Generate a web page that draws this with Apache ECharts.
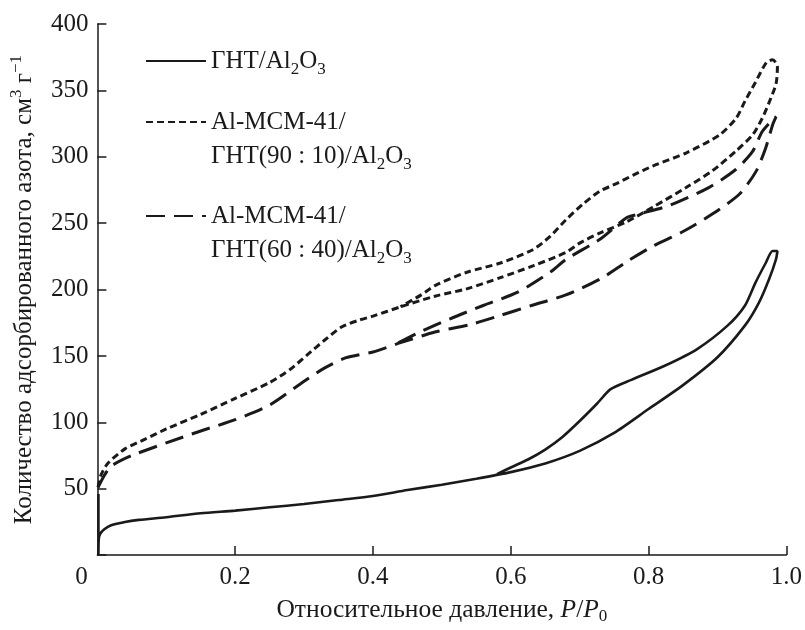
<!DOCTYPE html>
<html>
<head>
<meta charset="utf-8">
<script src="https://cdn.jsdelivr.net/npm/echarts@6/dist/echarts.min.js"></script>
<style>
html,body{margin:0;padding:0;background:#fff;}
#chart{width:805px;height:630px;}
</style>
</head>
<body>
<div id="chart"></div>
<script>
// X tick values (relative pressure) and Y tick values
var xTicks = [0, 0.2, 0.4, 0.6, 0.8, 1.0];
var yTicks = [50, 100, 150, 200, 250, 300, 350, 400];

// Series names (legend)
var seriesNames = ['ght', 'mcm90', 'mcm60'];

// ГНТ/Al2O3 : adsorption branch then desorption branch  [P/P0, V]
var ghtAds = [[0.0015,46],[0.0015,0],[0.002,12],[0.004,16],[0.01,19.5],[0.02,22.5],[0.04,25],[0.06,26.5],
  [0.1,28.5],[0.15,31.5],[0.2,33.5],[0.25,36],[0.3,38.5],[0.35,41.5],[0.4,44.5],[0.45,49],[0.5,53],
  [0.55,57.5],[0.6,62.5],[0.65,69],[0.7,78.5],[0.75,92],[0.8,110],[0.85,128],[0.9,149],[0.94,173],
  [0.96,190],[0.975,208],[0.985,223],[0.987,229]];
var ghtDes = [[0.98,229],[0.97,220],[0.955,205],[0.94,188],[0.915,173],[0.87,155],[0.825,143],
  [0.775,132],[0.745,125],[0.725,114],[0.70,101],[0.675,89],[0.65,79.5],[0.625,72],[0.6,66],[0.58,61]];

// Al-MCM-41/ГНТ(90:10)/Al2O3
var mcm90Ads = [[0.001,51],[0.005,60],[0.015,69],[0.04,80],[0.07,87.5],[0.1,95],[0.15,106],[0.2,118],
  [0.25,130],[0.28,140],[0.305,151],[0.33,162],[0.355,172],[0.38,177],[0.40,180],[0.44,187],[0.49,195],
  [0.536,200.5],[0.585,209],[0.633,218],[0.68,228],[0.70,235],[0.729,242.5],[0.768,251],[0.806,262],
  [0.855,277],[0.893,289.6],[0.927,304.4],[0.951,316.5],[0.965,329],[0.975,341],[0.985,355],[0.987,368]];
var mcm90Des = [[0.98,373],[0.971,371],[0.955,356],[0.94,342],[0.927,329],[0.903,316.5],[0.855,303],
  [0.806,293],[0.777,286],[0.754,280],[0.729,274],[0.705,264.5],[0.68,252.5],[0.657,240],[0.632,230],
  [0.585,220],[0.536,213],[0.49,203],[0.47,196],[0.44,187]];

// Al-MCM-41/ГНТ(60:40)/Al2O3
var mcm60Ads = [[0.001,51],[0.01,60],[0.02,67],[0.05,75],[0.1,84.5],[0.15,93.5],[0.2,102],[0.25,113],
  [0.3,131],[0.33,141],[0.36,148.5],[0.4,153],[0.44,160],[0.49,168],[0.54,173.5],[0.585,180.5],
  [0.63,188],[0.68,196],[0.73,208],[0.77,221.5],[0.806,232.6],[0.85,243.7],[0.893,257],[0.932,272],
  [0.956,289],[0.97,306.7],[0.98,324],[0.985,330]];
var mcm60Des = [[0.982,329],[0.965,319],[0.951,304],[0.927,290.6],[0.888,277],[0.831,263.5],[0.787,257],
  [0.768,254],[0.73,238],[0.68,222.7],[0.657,213],[0.61,198],[0.56,188],[0.512,178],[0.464,167],[0.43,158]];

var FONT = "'Liberation Serif', 'Times New Roman', 'DejaVu Serif', serif";
var INK = '#1a1a1a';
var subRich = {
  s: {fontFamily: FONT, fontSize: 17, lineHeight: 20, verticalAlign: 'bottom', color: INK},
  b: {fontFamily: FONT, fontSize: 25, lineHeight: 34, color: INK}
};
var legendLabels = {
  ght: 'ГНТ/Al{s|2}O{s|3}',
  mcm90: '{b| }\nAl-MCM-41/\nГНТ(90 : 10)/Al{s|2}O{s|3}',
  mcm60: '{b| }\nAl-MCM-41/\nГНТ(60 : 40)/Al{s|2}O{s|3}'
};
function mkLegend(name, top) {
  return {
    data: [name], left: 145, top: top, padding: 0, orient: 'vertical', selectedMode: false,
    itemWidth: 60, itemHeight: 14,
    itemStyle: {opacity: 0, borderWidth: 0},
    formatter: function (n) { return legendLabels[n]; },
    textStyle: {fontFamily: FONT, fontSize: 25, lineHeight: 34, color: INK, rich: subRich}
  };
}

var chart = echarts.init(document.getElementById('chart'), null, {renderer: 'canvas'});
var option = {
  backgroundColor: '#fff',
  animation: false,
  textStyle: {fontFamily: FONT},
  grid: {left: 96, right: 18, top: 24, bottom: 66, containLabel: false},
  legend: [mkLegend('ght', 44), mkLegend('mcm90', 71), mkLegend('mcm60', 165)],
  xAxis: {
    type: 'value', min: 0, max: 1, interval: 0.2,
    name: 'Относительное давление, {i|P}/{i|P}{s|0}',
    nameLocation: 'middle', nameGap: 29,
    nameTextStyle: {fontFamily: FONT, fontSize: 25.5, color: INK, lineHeight: 30,
      rich: {i: {fontFamily: FONT, fontSize: 25.5, fontStyle: 'italic', color: INK, lineHeight: 30},
             s: {fontFamily: FONT, fontSize: 17, lineHeight: 16, verticalAlign: 'bottom', color: INK}}},
    axisLine: {lineStyle: {color: INK, width: 1.5}},
    axisTick: {inside: true, length: 9, lineStyle: {color: INK, width: 1.5}},
    splitLine: {show: false},
    axisLabel: {
      fontFamily: FONT, fontSize: 25, color: INK, margin: 10,
      formatter: function (v) { return v === 0 ? '{z|0}' : v.toFixed(1); },
      rich: {z: {fontFamily: FONT, fontSize: 25, color: INK, padding: [0, 32, 0, 0]}}
    }
  },
  yAxis: {
    type: 'value', min: 0, max: 400, interval: 50,
    name: 'Количество адсорбированного азота, см{p|3} г{p|−1}',
    nameLocation: 'middle', nameGap: 56,
    nameTextStyle: {fontFamily: FONT, fontSize: 25, color: INK, lineHeight: 32,
      rich: {p: {fontFamily: FONT, fontSize: 17, lineHeight: 18, verticalAlign: 'top', color: INK}}},
    axisLine: {show: true, lineStyle: {color: INK, width: 1.5}},
    axisTick: {show: true, inside: true, length: 9, lineStyle: {color: INK, width: 1.5}},
    splitLine: {show: false},
    axisLabel: {
      fontFamily: FONT, fontSize: 25, color: INK, margin: 9,
      formatter: function (v) { return v === 0 ? '' : String(v); }
    }
  },
  series: [
    {name: 'ght', type: 'line', data: ghtAds.concat(ghtDes), symbol: 'none', smooth: 0.25,
     lineStyle: {color: INK, width: 2.6, type: 'solid'}, itemStyle: {color: INK}},
    {name: 'mcm90', type: 'line', data: mcm90Ads.concat(mcm90Des), symbol: 'none', smooth: 0.25,
     lineStyle: {color: INK, width: 3, type: [7, 4]}, itemStyle: {color: INK}},
    {name: 'mcm60', type: 'line', data: mcm60Ads.concat(mcm60Des), symbol: 'none', smooth: 0.25,
     lineStyle: {color: INK, width: 3, type: [19, 9]}, itemStyle: {color: INK}}
  ]
};
chart.setOption(option);
</script>
</body>
</html>
